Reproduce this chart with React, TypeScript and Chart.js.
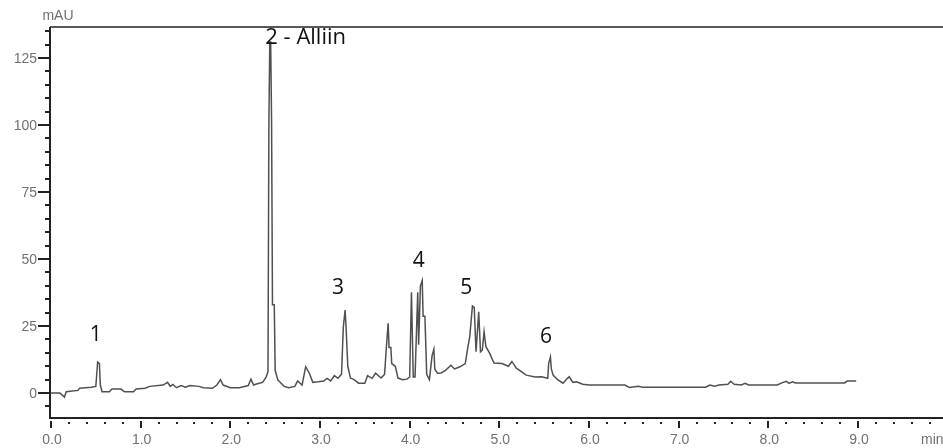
import React, { useEffect, useRef } from 'react';
import { Chart, registerables } from 'chart.js';

Chart.register(...registerables);

// Retention time (min)
const TIME = [
  0.00, 0.10, 0.15, 0.17, 0.30, 0.32, 0.45, 0.50, 0.51, 0.52, 0.54, 0.55, 0.57, 0.65, 0.68, 0.78, 0.82, 0.92, 0.95,
  1.05, 1.10, 1.25, 1.30, 1.33, 1.36, 1.40, 1.45, 1.50, 1.55, 1.65, 1.70, 1.80, 1.85, 1.89, 1.92, 2.00, 2.10, 2.20,
  2.23, 2.26, 2.30, 2.36, 2.40, 2.42, 2.43, 2.44, 2.45, 2.46, 2.47, 2.49, 2.50, 2.53, 2.60, 2.65, 2.72, 2.75, 2.80,
  2.84, 2.88, 2.92, 2.98, 3.04, 3.08, 3.12, 3.16, 3.20, 3.24, 3.26, 3.28, 3.29, 3.30, 3.31, 3.34, 3.38, 3.43, 3.50,
  3.53, 3.58, 3.62, 3.68, 3.72, 3.74, 3.76, 3.77, 3.79, 3.80, 3.84, 3.87, 3.92, 3.97, 4.00, 4.02, 4.04, 4.06, 4.09,
  4.10, 4.12, 4.14, 4.15, 4.17, 4.19, 4.22, 4.25, 4.27, 4.28, 4.31, 4.35, 4.40, 4.46, 4.50, 4.56, 4.62, 4.65, 4.67,
  4.70, 4.72, 4.74, 4.77, 4.79, 4.81, 4.83, 4.85, 4.89, 4.94, 5.03, 5.10, 5.14, 5.19, 5.30, 5.40, 5.47, 5.54, 5.55,
  5.57, 5.58, 5.60, 5.65, 5.71, 5.76, 5.78, 5.82, 5.86, 5.93, 6.00, 6.40, 6.45, 6.55, 6.60, 7.30, 7.35, 7.40, 7.45,
  7.55, 7.58, 7.62, 7.70, 7.74, 7.78, 8.10, 8.15, 8.20, 8.23, 8.27, 8.30, 8.85, 8.88, 8.98,
];

// Absorbance (mAU)
const SIGNAL = [
  0.0, 0.0, -1.5, 0.5, 1.0, 1.8, 2.2, 2.5, 7.0, 11.6, 11.0, 3.0, 0.5, 0.5, 1.5, 1.5, 0.5, 0.5, 1.5,
  1.8, 2.5, 3.0, 4.0, 2.5, 3.2, 2.0, 2.8, 2.2, 2.8, 2.5, 2.0, 1.8, 3.0, 5.0, 3.0, 2.0, 2.0, 2.8,
  5.2, 3.0, 3.5, 4.0, 6.0, 8.0, 101, 131, 131, 101, 33, 33, 8.5, 4.9, 2.5, 2.0, 2.5, 4.5, 3.0,
  9.8, 7.5, 4.0, 4.2, 4.5, 5.5, 4.5, 6.5, 5.5, 7.0, 24.6, 31, 25, 25, 10, 5.6, 5.0, 3.7, 3.7,
  6.5, 5.5, 7.4, 5.6, 7.0, 17, 26, 17, 17, 11, 10, 5.6, 5.0, 5.2, 6.0, 37.6, 6.0, 6.0, 37.6,
  18, 40, 42, 28.7, 28.7, 7.0, 5.0, 14, 16.4, 9.0, 7.4, 7.5, 8.5, 10.4, 9.0, 9.8, 11, 17.3, 21,
  32.5, 32, 15.4, 30.3, 15.4, 16, 22.9, 17.3, 15, 11.2, 11, 10, 11.8, 9.3, 6.7, 6.0, 6.1, 5.5, 11,
  13.5, 9.0, 6.7, 5.0, 3.7, 5.5, 6.1, 4.0, 4.2, 3.3, 3.0, 3.0, 2.1, 2.5, 2.2, 2.2, 3.0, 2.6, 3.0,
  3.3, 4.4, 3.3, 3.0, 3.6, 3.0, 3.0, 3.8, 4.4, 3.6, 4.2, 3.8, 3.8, 4.5, 4.5,
];

const X_TICK_LABELS = ['0.0', '1.0', '2.0', '3.0', '4.0', '5.0', '6.0', '7.0', '8.0', '9.0'];
const Y_TICK_LABELS = ['0', '25', '50', '75', '100', '125'];
const X_UNIT = 'min';
const Y_UNIT = 'mAU';

const PEAK_LABELS = ['1', '2 - Alliin', '3', '4', '5', '6'];
const PEAK_LABEL_T = [0.50, 2.84, 3.20, 4.10, 4.63, 5.52];
const PEAK_LABEL_V = [19.4, 130.2, 36.9, 47.0, 36.9, 18.7];

const X_MIN = 0;
const X_MAX = 9.948;
const Y_MIN = -9.3;
const Y_MAX = 136.6;

const axisPlugin = {
  id: 'chromAxes',
  afterDraw(chart: any) {
    const ctx = chart.ctx as CanvasRenderingContext2D;
    const { left, right, top, bottom } = chart.chartArea;
    const xs = chart.scales.x;
    const ys = chart.scales.y;
    ctx.save();

    // frame
    ctx.strokeStyle = '#222';
    ctx.lineWidth = 2;
    ctx.beginPath();
    ctx.moveTo(left - 1, top);
    ctx.lineTo(left - 1, bottom + 1);
    ctx.stroke();
    ctx.beginPath();
    ctx.moveTo(left - 2, bottom);
    ctx.lineTo(right, bottom);
    ctx.stroke();
    ctx.lineWidth = 1.5;
    ctx.beginPath();
    ctx.moveTo(left - 1, top);
    ctx.lineTo(right, top);
    ctx.stroke();

    // x ticks
    ctx.fillStyle = '#222';
    for (let i = 0; i * 0.2 <= X_MAX + 1e-9; i++) {
      const px = Math.round(xs.getPixelForValue(i * 0.2));
      if (i % 5 === 0) ctx.fillRect(px - 1, bottom + 3, 2, 7);
      else ctx.fillRect(px - 1, bottom + 4, 2, 2);
    }
    // y ticks
    for (let v = -5; v <= Y_MAX; v += 5) {
      const py = Math.round(ys.getPixelForValue(v));
      if (v % 25 === 0) ctx.fillRect(left - 13, py - 1, 11, 2);
      else ctx.fillRect(left - 6, py - 1, 4, 2);
    }

    // tick labels
    ctx.fillStyle = '#707070';
    ctx.font = '14px "Liberation Sans", Arial, sans-serif';
    ctx.textAlign = 'center';
    ctx.textBaseline = 'middle';
    X_TICK_LABELS.forEach((lab) => {
      const px = xs.getPixelForValue(parseFloat(lab));
      ctx.fillText(lab, px + 1, bottom + 22);
    });
    ctx.textAlign = 'right';
    Y_TICK_LABELS.forEach((lab) => {
      const py = ys.getPixelForValue(parseFloat(lab));
      ctx.fillText(lab, left - 14, py + 1);
    });
    ctx.textAlign = 'center';
    ctx.fillText(Y_UNIT, left + 7, 16);
    ctx.textAlign = 'left';
    ctx.fillText(X_UNIT, 921, bottom + 22);

    // peak labels
    ctx.fillStyle = '#111';
    ctx.textAlign = 'center';
    ctx.textBaseline = 'alphabetic';
    PEAK_LABELS.forEach((lab, i) => {
      ctx.font = (lab.length > 1 ? '22px' : '21px') + ' "Open Sans", sans-serif';
      const px = xs.getPixelForValue(PEAK_LABEL_T[i]);
      const py = ys.getPixelForValue(PEAK_LABEL_V[i]);
      ctx.fillText(lab, px, py);
    });

    ctx.restore();
  },
};

export default function App() {
  const ref = useRef<HTMLCanvasElement | null>(null);

  useEffect(() => {
    if (!ref.current) return;
    const chart = new Chart(ref.current, {
      type: 'line',
      data: {
        datasets: [
          {
            data: TIME.map((t, i) => ({ x: t, y: SIGNAL[i] })),
            borderColor: '#505050',
            borderWidth: 1.5,
            pointRadius: 0,
            tension: 0,
            fill: false,
          },
        ],
      },
      options: {
        responsive: false,
        animation: false,
        layout: { padding: { left: 51, top: 27, right: 0, bottom: 30 } },
        plugins: { legend: { display: false }, tooltip: { enabled: false } },
        scales: {
          x: { type: 'linear', min: X_MIN, max: X_MAX, display: false },
          y: { type: 'linear', min: Y_MIN, max: Y_MAX, display: false },
        },
      },
      plugins: [axisPlugin],
    });
    return () => chart.destroy();
  }, []);

  return (
    <div style={{ position: 'fixed', left: 0, top: 0, width: 943, height: 448, background: '#fff', overflow: 'hidden' }}>
      <canvas ref={ref} width={943} height={448} style={{ display: 'block' }} />
    </div>
  );
}
